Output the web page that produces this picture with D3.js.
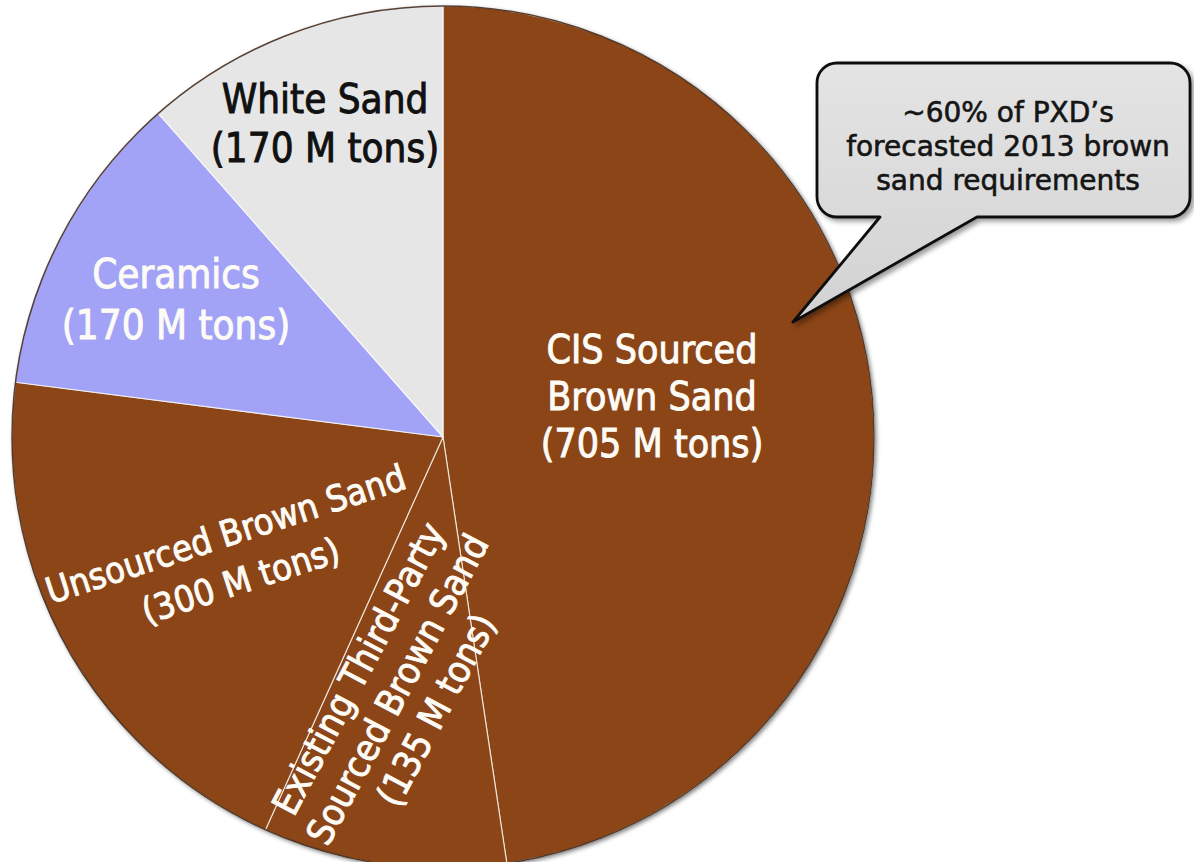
<!DOCTYPE html>
<html>
<head>
<meta charset="utf-8">
<script src="https://cdn.jsdelivr.net/npm/d3@7"></script>
<style>
  html, body { margin: 0; padding: 0; background: #ffffff; }
  svg { display: block; }
  text { font-family: "DejaVu Sans", "Noto Sans", sans-serif; }
  .lbl { font-stretch: condensed; }
</style>
</head>
<body>
<svg id="chart" width="1194" height="862"></svg>
<script>
// Sand supply breakdown, million tons (clockwise from 12 o'clock)
const categories = [
  "CIS Sourced Brown Sand",
  "Existing Third-Party Sourced Brown Sand",
  "Unsourced Brown Sand",
  "Ceramics",
  "White Sand"
];
const tonnage = [705, 135, 300, 170, 170];
const nameLines = [
  ["CIS Sourced", "Brown Sand"],
  ["Existing Third-Party", "Sourced Brown Sand"],
  ["Unsourced Brown Sand"],
  ["Ceramics"],
  ["White Sand"]
];
const sliceColors = ["#8b4412", "#8b4412", "#8b4412", "#a2a2f6", "#e6e6e6"];
const labelColors = ["#fdfbf6", "#fdfbf6", "#fdfbf6", "#fdfbf6", "#111111"];
const calloutLines = ["~60% of PXD\u2019s", "forecasted 2013 brown", "sand requirements"];

// Geometry
const W = 1194, H = 862;
const cx = 443, cy = 437, R = 431;

// Label placement relative to pie centre: dx, dy, rotation, font size, line step
const labelLayout = [
  { dx: 209,  dy: -41,  rot: 0,   size: 39, step: 47 },
  { dx: -46,  dy: 252,  rot: -62, size: 37, step: 44 },
  { dx: -210, dy: 120,  rot: -18, size: 36, step: 49 },
  { dx: -267, dy: -138, rot: 0,   size: 40, step: 51 },
  { dx: -118, dy: -314, rot: 0,   size: 40, step: 49 }
];

const svg = d3.select("#chart");
const defs = svg.append("defs");

const shadow = defs.append("filter").attr("id", "pieShadow")
  .attr("x", "-10%").attr("y", "-10%").attr("width", "120%").attr("height", "120%");
shadow.append("feDropShadow").attr("dx", 2).attr("dy", 2).attr("stdDeviation", 2)
  .attr("flood-color", "#000").attr("flood-opacity", 0.5);

const boxShadow = defs.append("filter").attr("id", "boxShadow")
  .attr("x", "-10%").attr("y", "-10%").attr("width", "130%").attr("height", "140%");
boxShadow.append("feDropShadow").attr("dx", 3).attr("dy", 3).attr("stdDeviation", 2.5)
  .attr("flood-color", "#000").attr("flood-opacity", 0.4);

const boxGrad = defs.append("linearGradient").attr("id", "boxFill")
  .attr("x1", 0).attr("y1", 0).attr("x2", 0).attr("y2", 1);
boxGrad.append("stop").attr("offset", "0%").attr("stop-color", "#e4e4e4");
boxGrad.append("stop").attr("offset", "100%").attr("stop-color", "#d2d2d2");

const data = categories.map((c, i) => ({ name: c, value: tonnage[i], idx: i }));

const pie = d3.pie().sort(null).value(d => d.value)
  .startAngle(0).endAngle(2 * Math.PI);
const arc = d3.arc().innerRadius(0).outerRadius(R);
const arcs = pie(data);

const g = svg.append("g").attr("transform", `translate(${cx},${cy})`);

const pieG = g.append("g").attr("filter", "url(#pieShadow)");
pieG.selectAll("path.slice")
  .data(arcs)
  .join("path")
  .attr("class", "slice")
  .attr("d", arc)
  .attr("fill", d => sliceColors[d.data.idx])
  .attr("stroke", "rgba(255,255,255,0.75)")
  .attr("stroke-width", 1.2)
  .attr("stroke-linejoin", "round");

// thin dark rim around the pie
g.append("circle").attr("r", R).attr("fill", "none")
  .attr("stroke", "#2e1404").attr("stroke-width", 1.5).attr("stroke-opacity", 0.8);

// slice labels
arcs.forEach(a => {
  const i = a.data.idx;
  const L = labelLayout[i];
  const lines = nameLines[i].concat([`(${tonnage[i]} M tons)`]);
  const n = lines.length;
  const lg = g.append("g")
    .attr("transform", `translate(${L.dx},${L.dy}) rotate(${L.rot})`);
  lg.selectAll("text")
    .data(lines)
    .join("text")
    .attr("class", "lbl")
    .attr("x", 0)
    .attr("y", (d, k) => (k - (n - 1) / 2) * L.step)
    .attr("dy", "0.36em")
    .attr("text-anchor", "middle")
    .attr("font-size", L.size)
    .attr("fill", labelColors[i])
    .attr("stroke", labelColors[i])
    .attr("stroke-width", 0.9)
    .text(d => d);
});

// callout box with pointer into the CIS slice
const bx0 = 817, by0 = 63, bx1 = 1190, by1 = 217, br = 20;
const tailA = 880, tailB = 977, tipX = 793, tipY = 322;
const p = d3.path();
p.moveTo(bx0 + br, by0);
p.lineTo(bx1 - br, by0);
p.arcTo(bx1, by0, bx1, by0 + br, br);
p.lineTo(bx1, by1 - br);
p.arcTo(bx1, by1, bx1 - br, by1, br);
p.lineTo(tailB, by1);
p.lineTo(tipX, tipY);
p.lineTo(tailA, by1);
p.lineTo(bx0 + br, by1);
p.arcTo(bx0, by1, bx0, by1 - br, br);
p.lineTo(bx0, by0 + br);
p.arcTo(bx0, by0, bx0 + br, by0, br);
p.closePath();

svg.append("path")
  .attr("d", p.toString())
  .attr("fill", "url(#boxFill)")
  .attr("stroke", "#111")
  .attr("stroke-width", 2.8)
  .attr("stroke-linejoin", "round")
  .attr("filter", "url(#boxShadow)");

svg.append("g").selectAll("text")
  .data(calloutLines)
  .join("text")
  .attr("x", 1008)
  .attr("y", (d, k) => 122 + k * 34)
  .attr("text-anchor", "middle")
  .attr("font-size", 28)
  .attr("fill", "#151515")
  .attr("stroke", "#151515")
  .attr("stroke-width", 0.6)
  .text(d => d);
</script>
</body>
</html>
